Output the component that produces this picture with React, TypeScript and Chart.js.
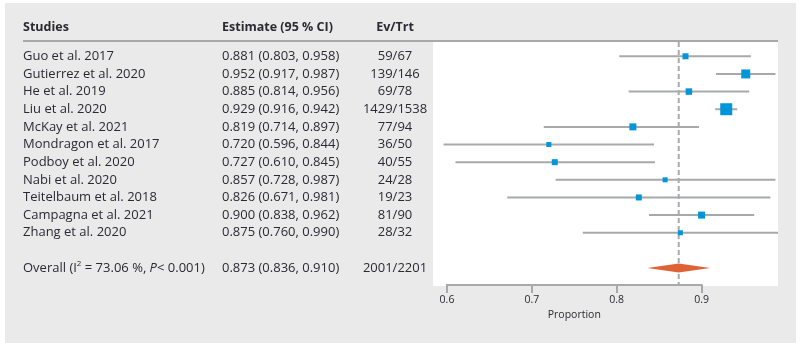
import React, { useEffect, useRef } from "react";
import { Chart, registerables } from "chart.js";

Chart.register(...registerables);

// ---------- data ----------
const STUDIES = [
  "Guo et al. 2017",
  "Gutierrez et al. 2020",
  "He et al. 2019",
  "Liu et al. 2020",
  "McKay et al. 2021",
  "Mondragon et al. 2017",
  "Podboy et al. 2020",
  "Nabi et al. 2020",
  "Teitelbaum et al. 2018",
  "Campagna et al. 2021",
  "Zhang et al. 2020",
];
const ESTIMATE = [0.881, 0.952, 0.885, 0.929, 0.819, 0.72, 0.727, 0.857, 0.826, 0.9, 0.875];
const LOWER = [0.803, 0.917, 0.814, 0.916, 0.714, 0.596, 0.61, 0.728, 0.671, 0.838, 0.76];
const UPPER = [0.958, 0.987, 0.956, 0.942, 0.897, 0.844, 0.845, 0.987, 0.981, 0.962, 0.99];
const EVENTS = [59, 139, 69, 1429, 77, 36, 40, 24, 19, 81, 28];
const TOTALS = [67, 146, 78, 1538, 94, 50, 55, 28, 23, 90, 32];

const OVERALL_EST = 0.873;
const OVERALL_LO = 0.836;
const OVERALL_HI = 0.91;
const OVERALL_I2 = "73.06";
const OVERALL_P = "< 0.001";

const X_TICKS = [0.6, 0.7, 0.8, 0.9];
const X_TITLE = "Proportion";
const HEADERS = ["Studies", "Estimate (95 % CI)", "Ev/Trt"];

// marker side lengths (px), reflecting study weights
const MARKER_PX = [6, 9, 6.5, 12, 7, 5, 6, 5, 6, 7, 5];

// ---------- styles ----------
const FONT = "'Open Sans', 'Noto Sans', sans-serif";
const TEXT_COLOR = "#2b2a33";
const GREY = "#a8a9ab";
const BLUE = "#0096d9";
const ORANGE = "#df6236";
const BG = "#e9eae9";

const X_MIN = 0.5835;
const X_MAX = 0.99;
const Y_MIN = -0.81;
const Y_MAX = 12.96;

const fmt = (v: number) => v.toFixed(3);

export default function App() {
  const ref = useRef<HTMLCanvasElement | null>(null);

  useEffect(() => {
    const canvas = ref.current;
    if (!canvas) return;

    const overallRow = STUDIES.length + 1;
    const sumEv = EVENTS.reduce((a, b) => a + b, 0);
    const sumTot = TOTALS.reduce((a, b) => a + b, 0);

    const ciDatasets = STUDIES.map((_, i) => ({
      type: "line" as const,
      data: [
        { x: LOWER[i], y: i },
        { x: UPPER[i], y: i },
      ],
      borderColor: GREY,
      borderWidth: 2,
      pointRadius: 0,
      showLine: true,
      order: 2,
    }));

    const tablePlugin = {
      id: "forestTable",
      beforeDraw(chart: any) {
        const { ctx, chartArea } = chart;
        ctx.save();
        ctx.fillStyle = "#ffffff";
        ctx.fillRect(0, 0, chart.width, chart.height);
        ctx.fillStyle = BG;
        ctx.fillRect(5, 3, 791, 340);
        ctx.fillStyle = "#ffffff";
        ctx.fillRect(chartArea.left, chartArea.top, chartArea.right - chartArea.left, chartArea.bottom - chartArea.top + 1);
        // header rule
        ctx.fillStyle = GREY;
        ctx.fillRect(23, 40, chartArea.right - 23, 2);
        ctx.restore();
      },
      afterDatasetsDraw(chart: any) {
        const { ctx, chartArea } = chart;
        const xs = chart.scales.x;
        const ys = chart.scales.y;
        ctx.save();
        // diamond
        const yc = ys.getPixelForValue(overallRow);
        ctx.fillStyle = ORANGE;
        ctx.beginPath();
        ctx.moveTo(xs.getPixelForValue(OVERALL_LO), yc);
        ctx.lineTo(xs.getPixelForValue(OVERALL_EST), yc - 4.5);
        ctx.lineTo(xs.getPixelForValue(OVERALL_HI), yc);
        ctx.lineTo(xs.getPixelForValue(OVERALL_EST), yc + 4.5);
        ctx.closePath();
        ctx.fill();

        // axis line
        const ax0 = xs.getPixelForValue(X_TICKS[0]);
        const ax1 = xs.getPixelForValue(X_TICKS[X_TICKS.length - 1]);
        ctx.fillStyle = GREY;
        ctx.fillRect(ax0 - 1, chartArea.bottom - 1, ax1 - ax0 + 2, 2);

        // table text
        const colStudy = 23;
        const colEst = 222;
        const colEv = 395;
        const fs = 13;
        ctx.fillStyle = TEXT_COLOR;
        ctx.textBaseline = "middle";
        ctx.font = `bold 12.5px ${FONT}`;
        ctx.textAlign = "left";
        ctx.fillText(HEADERS[0], colStudy, 27);
        ctx.fillText(HEADERS[1], colEst, 27);
        ctx.textAlign = "center";
        ctx.fillText(HEADERS[2], colEv, 27);

        ctx.font = `${fs}px ${FONT}`;
        STUDIES.forEach((s, i) => {
          const y = ys.getPixelForValue(i);
          ctx.textAlign = "left";
          ctx.fillText(s, colStudy, y);
          ctx.fillText(`${fmt(ESTIMATE[i])} (${fmt(LOWER[i])}, ${fmt(UPPER[i])})`, colEst, y);
          ctx.textAlign = "center";
          ctx.fillText(`${EVENTS[i]}/${TOTALS[i]}`, colEv, y);
        });

        // overall row
        ctx.textAlign = "left";
        let x = colStudy;
        const put = (t: string, font: string, dy = 0) => {
          ctx.font = font;
          ctx.fillText(t, x, yc + dy);
          x += ctx.measureText(t).width;
        };
        put("Overall (I", `${fs}px ${FONT}`);
        put("2", `8px ${FONT}`, -4);
        put(` = ${OVERALL_I2} %, `, `${fs}px ${FONT}`);
        put("P", `italic ${fs}px ${FONT}`);
        put(`${OVERALL_P})`, `${fs}px ${FONT}`);
        ctx.font = `${fs}px ${FONT}`;
        ctx.fillText(`${fmt(OVERALL_EST)} (${fmt(OVERALL_LO)}, ${fmt(OVERALL_HI)})`, colEst, yc);
        ctx.textAlign = "center";
        ctx.fillText(`${sumEv}/${sumTot}`, colEv, yc);

        // axis title
        ctx.font = `10.5px ${FONT}`;
        ctx.fillText(X_TITLE, (ax0 + ax1) / 2, 315);
        ctx.restore();
      },
    };

    const chart = new Chart(canvas, {
      type: "scatter",
      data: {
        datasets: [
          {
            type: "scatter" as const,
            data: ESTIMATE.map((x, i) => ({ x, y: i })),
            pointStyle: "rect",
            pointRadius: MARKER_PX.map((s) => s / Math.SQRT2),
            backgroundColor: BLUE,
            borderWidth: 0,
            order: 0,
          },
          ...ciDatasets,
          {
            type: "line" as const,
            data: [
              { x: OVERALL_EST, y: Y_MIN },
              { x: OVERALL_EST, y: Y_MAX },
            ],
            borderColor: GREY,
            borderWidth: 2,
            borderDash: [5, 3],
            pointRadius: 0,
            showLine: true,
            order: 3,
          },
        ] as any,
      },
      options: {
        responsive: false,
        animation: false,
        devicePixelRatio: 1,
        layout: { padding: { left: 433, right: 23, top: 42, bottom: 0 } },
        plugins: {
          legend: { display: false },
          tooltip: { enabled: false },
          title: { display: false },
        },
        events: [],
        scales: {
          x: {
            type: "linear",
            min: X_MIN,
            max: X_MAX,
            afterBuildTicks: (s: any) => {
              s.ticks = X_TICKS.map((v) => ({ value: v }));
            },
            afterFit: (s: any) => {
              s.height = 62;
            },
            border: { display: false },
            grid: {
              drawOnChartArea: false,
              drawTicks: true,
              tickLength: 8,
              color: GREY,
              lineWidth: 2,
            },
            ticks: {
              padding: 1,
              color: TEXT_COLOR,
              font: { family: FONT, size: 10.5 },
              callback: (v: any) => String(v),
            },
          },
          y: {
            type: "linear",
            display: false,
            min: Y_MIN,
            max: Y_MAX,
            reverse: true,
          },
        },
      } as any,
      plugins: [tablePlugin],
    });

    return () => chart.destroy();
  }, []);

  return (
    <div style={{ position: "absolute", left: 0, top: 0, width: 801, height: 347 }}>
      <canvas ref={ref} width={801} height={347} style={{ display: "block" }} />
    </div>
  );
}
